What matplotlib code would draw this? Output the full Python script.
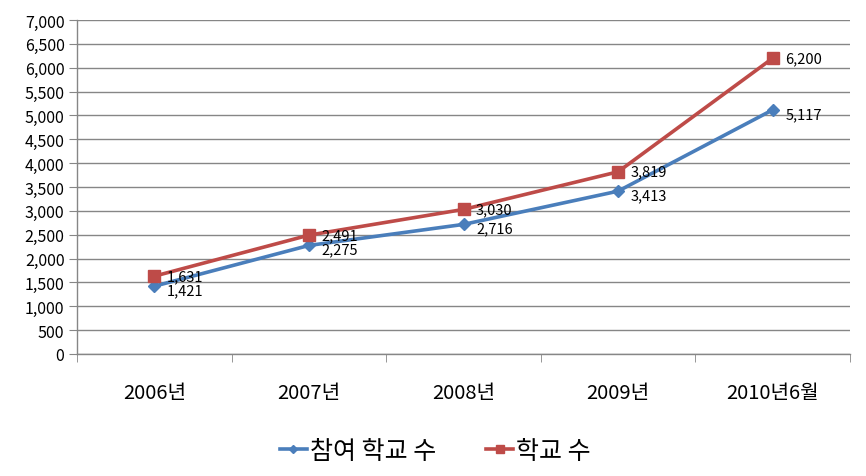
#!/usr/bin/env python3
"""School counts 2006 - 2010.6, line chart."""
import matplotlib

matplotlib.use("Agg")
import matplotlib.pyplot as plt
import numpy as np
from matplotlib.ticker import FuncFormatter, FixedLocator

plt.rcParams["font.family"] = ["Noto Sans CJK KR", "DejaVu Sans"]

categories = ["2006년", "2007년", "2008년", "2009년", "2010년6월"]
participating = [1421, 2275, 2716, 3413, 5117]
schools = [1631, 2491, 3030, 3819, 6200]
series_names = ["참여 학교 수", "학교 수"]

blue = "#4A7EBB"
red = "#BE4B48"
grid = "#868686"

fig = plt.figure(figsize=(8.66, 4.77), dpi=100)
ax = fig.add_axes([77 / 866, 1 - 355 / 477, (850 - 77) / 866, (355 - 21) / 477])

x = np.arange(len(categories))
ax.plot(x, participating, color=blue, lw=2.6, marker="D", ms=6,
        mfc=blue, mec=blue, label=series_names[0], zorder=3)
ax.plot(x, schools, color=red, lw=2.6, marker="s", ms=8,
        mfc=red, mec=red, label=series_names[1], zorder=3)

for xi, v in zip(x, participating):
    ax.annotate(f"{v:,}", (xi, v), xytext=(9, -3), textcoords="offset points",
                ha="left", va="center", fontsize=10.5, color="#000000", zorder=4)
for xi, v in zip(x, schools):
    ax.annotate(f"{v:,}", (xi, v), xytext=(9, 0), textcoords="offset points",
                ha="left", va="center", fontsize=10.5, color="#000000", zorder=4)

ax.set_xlim(-0.5, len(categories) - 0.5)
ax.set_ylim(0, 7000)
ax.set_yticks(np.arange(0, 7001, 500))
ax.yaxis.set_major_formatter(FuncFormatter(lambda v, _: f"{int(v):,}"))
ax.yaxis.grid(True, color=grid, lw=1)
ax.set_axisbelow(True)

ax.set_xticks(x)
ax.set_xticklabels(categories, fontsize=14.5)
ax.xaxis.set_minor_locator(FixedLocator(np.arange(-0.5, len(categories), 1)))
ax.tick_params(axis="x", which="major", length=0, pad=20)
ax.tick_params(axis="x", which="minor", length=6, color=grid, direction="out")
ax.tick_params(axis="y", length=6, color=grid, direction="out", labelsize=11.5, pad=3)

for side in ["top", "right"]:
    ax.spines[side].set_visible(False)
for side in ["left", "bottom"]:
    ax.spines[side].set_color(grid)
    ax.spines[side].set_linewidth(1)

fig.legend(loc="center", bbox_to_anchor=(435 / 866, 1 - 452 / 477), ncol=2,
           frameon=False, fontsize=18, handlelength=1.1, handletextpad=0.1,
           columnspacing=2.0, markerscale=0.7)

fig.savefig("out.png", dpi=100)
